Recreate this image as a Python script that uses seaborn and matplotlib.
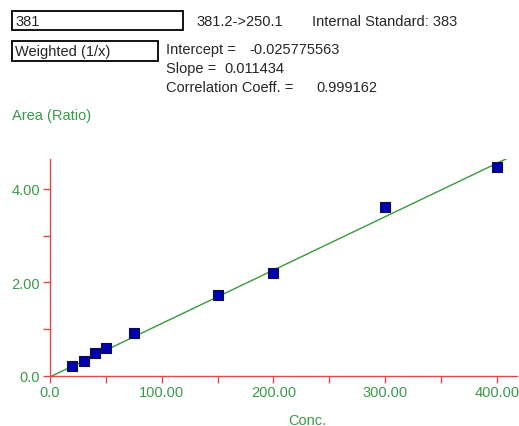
import numpy as np
import pandas as pd
import matplotlib
matplotlib.use("Agg")
import matplotlib.pyplot as plt
from matplotlib.patches import Rectangle
from matplotlib.ticker import MultipleLocator, FixedFormatter, FixedLocator
import seaborn as sns

# calibration data
conc = [20, 30, 40, 50, 75, 150, 200, 300, 400]
area_ratio = [0.21, 0.32, 0.49, 0.59, 0.91, 1.73, 2.19, 3.61, 4.46]
intercept = -0.025775563
slope = 0.011434
corr = 0.999162
fit_x = [0, 411]

x_ticks = [0, 100, 200, 300, 400]
x_labels = ["0.0", "100.00", "200.00", "300.00", "400.00"]
y_ticks = [0, 2, 4]
y_labels = ["0.0", "2.00", "4.00"]

GREEN = "#3a9a4a"
RED = "#e04848"
FS = 10.5

sns.set_style("white")
plt.rcParams['font.family'] = ['Liberation Sans', 'DejaVu Sans']

df = pd.DataFrame({"conc": conc, "area": area_ratio})
fit_df = pd.DataFrame({"conc": fit_x,
                       "area": [slope * v + intercept for v in fit_x]})

W, H = 519, 427
fig = plt.figure(figsize=(W / 100, H / 100), dpi=100)
x0, x1, y0, y1 = 50, 517, 160, 376.7
ax = fig.add_axes([x0 / W, 1 - y1 / H, (x1 - x0) / W, (y1 - y0) / H])

sns.lineplot(data=fit_df, x="conc", y="area", ax=ax, color="#3a9a3a", lw=1.0)
sns.scatterplot(data=df, x="conc", y="area", ax=ax, marker="s", s=55,
                color="#0000b0", edgecolor="#101040", linewidth=0.8, zorder=3)

ax.set_xlim(0, 418)
ax.set_ylim(0, 4.64)
ax.xaxis.set_major_locator(FixedLocator(x_ticks))
ax.xaxis.set_major_formatter(FixedFormatter(x_labels))
ax.xaxis.set_minor_locator(MultipleLocator(50))
ax.yaxis.set_major_locator(FixedLocator(y_ticks))
ax.yaxis.set_major_formatter(FixedFormatter(y_labels))
ax.yaxis.set_minor_locator(MultipleLocator(1))
ax.tick_params(which="both", direction="out", color=RED, width=1,
               labelcolor=GREEN, labelsize=FS, bottom=True, left=True)
ax.tick_params(which="major", length=5, pad=2)
ax.tick_params(which="minor", length=5)
ax.set_xlabel("")
ax.set_ylabel("")
for s in ["top", "right"]:
    ax.spines[s].set_visible(False)
for s in ["left", "bottom"]:
    ax.spines[s].set_color(RED)
    ax.spines[s].set_linewidth(1)

# header boxes and text (figure pixel coords)
def px(x, y):
    return x / W, 1 - y / H

for (bx, by, bw, bh, txt) in [(12, 12, 171, 19, "381"), (12, 42, 146, 20, "Weighted (1/x)")]:
    fig.patches.append(Rectangle(px(bx, by + bh), bw / W, bh / H, transform=fig.transFigure,
                                 fill=False, edgecolor="black", linewidth=1.3))
    fig.text(*px(bx + 3, by + bh / 2), txt, fontsize=FS, va="center", ha="left")

fig.text(*px(196, 22), "381.2->250.1", fontsize=FS, va="center")
fig.text(*px(312, 22), "Internal Standard: 383", fontsize=FS, va="center")
fig.text(*px(166, 50), "Intercept =", fontsize=FS, va="center")
fig.text(*px(249, 50), "%.9f" % intercept, fontsize=FS, va="center")
fig.text(*px(166, 69), "Slope =", fontsize=FS, va="center")
fig.text(*px(224, 69), "%.6f" % slope, fontsize=FS, va="center")
fig.text(*px(166, 88), "Correlation Coeff. =", fontsize=FS, va="center")
fig.text(*px(316, 88), "%.6f" % corr, fontsize=FS, va="center")
fig.text(*px(12, 116), "Area (Ratio)", fontsize=FS, va="center", color=GREEN)
fig.text(*px(307, 421), "Conc.", fontsize=FS, va="center", ha="center", color=GREEN)

fig.savefig("out.png", dpi=100)
